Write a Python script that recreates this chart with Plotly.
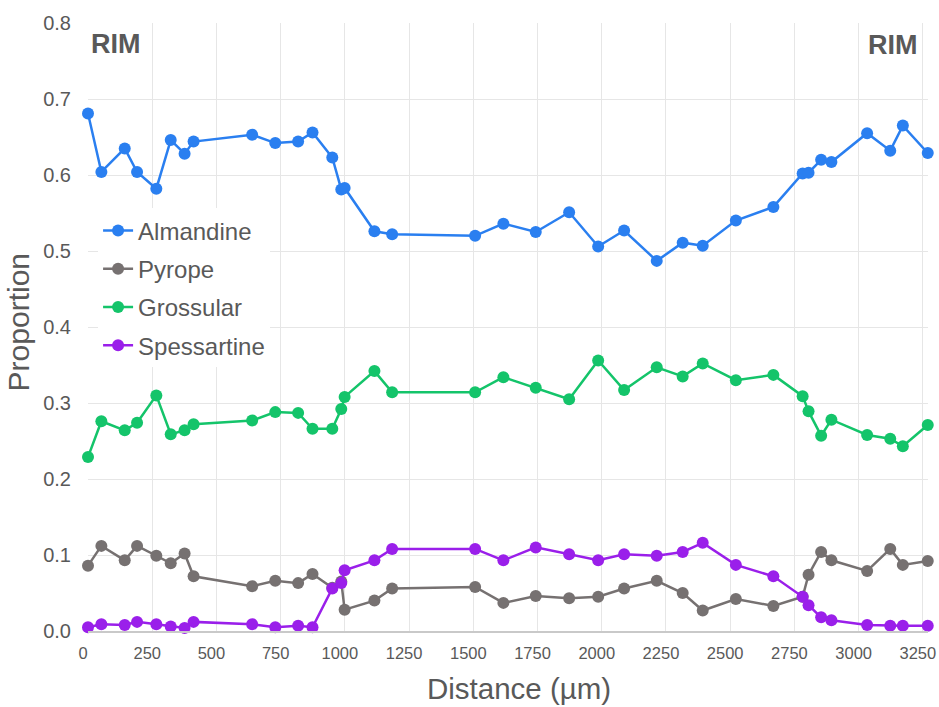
import plotly.graph_objects as go

# Distance along the garnet traverse (µm)
distance = [0, 52, 143, 191, 266, 322, 376, 411, 639, 729, 818, 874, 951, 986, 999,
            1115, 1184, 1507, 1617, 1743, 1873, 1986, 2087, 2214, 2315, 2393, 2522,
            2668, 2782, 2805, 2854, 2894, 3033, 3123, 3172, 3269]

almandine = [0.681, 0.604, 0.635, 0.604, 0.582, 0.646, 0.628, 0.644, 0.653, 0.642,
             0.644, 0.656, 0.623, 0.581, 0.583, 0.526, 0.522, 0.520, 0.536, 0.525,
             0.551, 0.506, 0.527, 0.487, 0.511, 0.507, 0.540, 0.558, 0.602, 0.603,
             0.620, 0.617, 0.655, 0.632, 0.665, 0.629]

pyrope = [0.086, 0.112, 0.093, 0.112, 0.099, 0.089, 0.102, 0.072, 0.059, 0.066,
          0.063, 0.075, 0.057, 0.065, 0.028, 0.040, 0.056, 0.058, 0.037, 0.046,
          0.043, 0.045, 0.056, 0.066, 0.050, 0.027, 0.042, 0.033, 0.045, 0.074,
          0.104, 0.093, 0.079, 0.108, 0.087, 0.092]

grossular = [0.229, 0.276, 0.264, 0.274, 0.310, 0.259, 0.264, 0.272, 0.277, 0.288,
             0.287, 0.266, 0.266, 0.292, 0.308, 0.342, 0.314, 0.314, 0.334, 0.320,
             0.305, 0.356, 0.317, 0.347, 0.335, 0.352, 0.330, 0.337, 0.309, 0.289,
             0.257, 0.278, 0.258, 0.253, 0.243, 0.271]

spessartine = [0.005, 0.009, 0.008, 0.012, 0.009, 0.006, 0.004, 0.012, 0.009, 0.005,
               0.007, 0.005, 0.056, 0.063, 0.080, 0.093, 0.108, 0.108, 0.093, 0.110,
               0.101, 0.093, 0.101, 0.099, 0.104, 0.116, 0.087, 0.072, 0.045, 0.034,
               0.018, 0.014, 0.008, 0.007, 0.007, 0.007]

series = [
    ("Almandine", almandine, "#2a7ff0"),
    ("Pyrope", pyrope, "#767171"),
    ("Grossular", grossular, "#14c46a"),
    ("Spessartine", spessartine, "#9a1fea"),
]

y_ticks = [0.0, 0.1, 0.2, 0.3, 0.4, 0.5, 0.6, 0.7, 0.8]
x_ticks = list(range(0, 3251, 250))

text_color = "#595959"
font_family = "Liberation Sans, Arial, sans-serif"

fig = go.Figure()
for name, values, color in series:
    fig.add_trace(go.Scatter(
        x=distance, y=values, name=name, mode="lines+markers",
        legendgroup=name,
        line=dict(color=color, width=2.5),
        marker=dict(color=color, size=12),
        cliponaxis=False,
    ))

# Rim labels at both ends of the traverse
for x_pos, y_pos in [(0.033, 0.966), (0.958, 0.963)]:
    fig.add_annotation(text="<b>RIM</b>", xref="paper", yref="paper", x=x_pos, y=y_pos,
                       xanchor="center", yanchor="middle", showarrow=False,
                       font=dict(size=27, color=text_color, family=font_family))

# Axis titles
fig.add_annotation(text="Distance (µm)", xref="paper", yref="paper", x=0.513, y=-0.094,
                   xanchor="center", yanchor="middle", showarrow=False,
                   font=dict(size=29.5, color=text_color, family=font_family))
fig.add_annotation(text="Proportion", xref="paper", yref="paper", x=-0.083, y=0.508,
                   xanchor="center", yanchor="middle", showarrow=False, textangle=-90,
                   font=dict(size=30, color=text_color, family=font_family))

fig.update_layout(
    width=939, height=707,
    margin=dict(l=88, r=11, t=23, b=76),
    paper_bgcolor="white", plot_bgcolor="white",
    font=dict(family=font_family, color=text_color),
    showlegend=True,
    legend=dict(x=0.012, y=0.695, xanchor="left", yanchor="top",
                bgcolor="white", font=dict(size=24, color=text_color),
                tracegroupgap=4, itemwidth=30),
    xaxis=dict(
        range=[0, 3270], tickvals=x_ticks, ticktext=[str(v) for v in x_ticks],
        showgrid=True, gridcolor="#e6e6e6", gridwidth=1,
        showline=True, linecolor="#c9c9c9", linewidth=2,
        zeroline=False, ticks="", tickfont=dict(size=16.5, color=text_color),
        ticklabelstandoff=6, ticklabelshift=-5, ticklabeloverflow="allow",
        automargin=False,
    ),
    yaxis=dict(
        range=[0, 0.8], tickvals=y_ticks, ticktext=[f"{v:.1f}" for v in y_ticks],
        showgrid=True, gridcolor="#e6e6e6", gridwidth=1,
        showline=False, zeroline=False, ticks="", automargin=False,
        tickfont=dict(size=20, color=text_color), ticklabelstandoff=16,
    ),
)

fig.write_html("out.html")
